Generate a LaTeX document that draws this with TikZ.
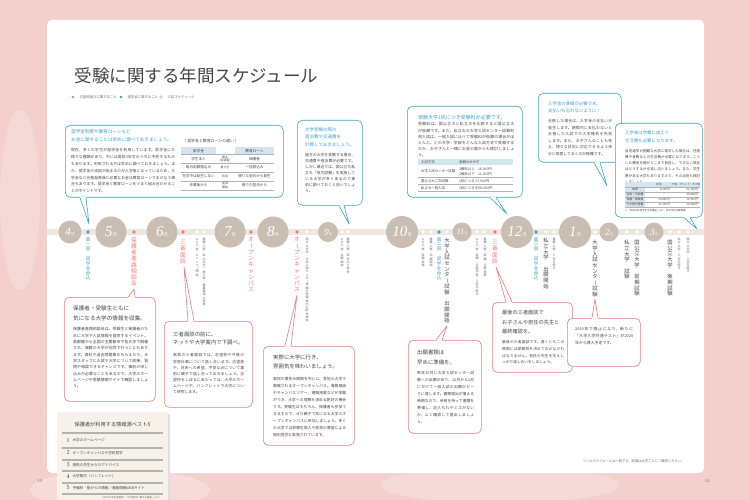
\documentclass[tikz,border=0pt]{standalone}
\usepackage{fontspec}
\usepackage{graphicx}
\setmainfont{Noto Sans CJK JP}
\newfontfamily\numfont{Liberation Serif}
\XeTeXlinebreaklocale "ja"
\XeTeXlinebreakskip=0pt plus 0.4pt
\usetikzlibrary{calc}
\definecolor{cblue}{HTML}{3FA3C6}
\definecolor{cred}{HTML}{EE7C7C}
\definecolor{cmon}{HTML}{C9BEB1}
\definecolor{cband}{HTML}{ECE7E1}
\definecolor{cdark}{HTML}{454545}
\definecolor{cgray}{HTML}{6A6A6A}
\definecolor{cpink}{HTML}{F3D0CC}
\definecolor{ctab}{HTML}{D5E5EE}
\definecolor{cpanel}{HTML}{F6F2EA}
\newcommand\fs[2]{\fontsize{#1}{#2}\selectfont}
\newcommand\cho{\rotatebox[origin=c]{-90}{ー}}
\newcommand\mnum[2]{{\numfont\itshape\fs{#1}{#1}#2}}
\newcommand\mtsu[1]{{\fs{#1}{#1}月}}
\makeatletter
\def\tate@end{TATE@END}
\newcommand\tate[1]{\vbox{\baselineskip=1.08em\lineskiplimit=-100pt\lineskip=0pt\tate@a#1\tate@end}}
\def\tate@a#1{\ifx#1\tate@end\else\hbox to 1em{\hss#1\hss}\expandafter\tate@a\fi}
\makeatother
\newcommand\tail[4]{%
  \fill[white] #2 -- #4 -- #3 -- cycle;
  \draw[white, line width=1.3pt] #2 -- #3;
  \draw[#1, line width=0.6pt, line join=round] #2 -- #4 -- #3;}
\tikzset{
  bx/.style={rounded corners=5pt, line width=0.6pt, fill=white, anchor=north west, inner sep=0pt},
  bbox/.style={bx, draw=cblue},
  rbox/.style={bx, draw=cred},
  mon/.style={circle, fill=cmon, text=white, inner sep=0pt},
  body/.style={anchor=north west, align=justify, text=cdark, inner sep=0pt},
  bhead/.style={anchor=north west, align=left, text=cblue, inner sep=0pt},
  rhead/.style={anchor=north west, align=left, text=cdark, inner sep=0pt},
  tab/.style={text=cdark, align=center, inner sep=0pt},
  vgray/.style={anchor=north, inner sep=0pt, font=\fs{3}{3}, text=cgray},
  vblue/.style={anchor=north, inner sep=0pt, font=\fs{4.5}{4.5}, text=cblue},
  vred/.style={anchor=north, inner sep=0pt, font=\fs{5.8}{5.8}, text=cred},
  vdark/.style={anchor=north, inner sep=0pt, font=\fs{5.3}{5.3}, text=cdark},
  tline/.style={draw=black!30, line width=0.3pt},
}
\begin{document}
\begin{tikzpicture}[x=1pt,y=-1pt]
\useasboundingbox (0,0) rectangle (750,500);
% background
\fill[cpink] (0,0) rectangle (750,500);
\fill[white, opacity=0.25] (120,490) ellipse[x radius=90pt, y radius=20pt];
\fill[white, opacity=0.2] (500,485) ellipse[x radius=120pt, y radius=18pt];
\fill[white, opacity=0.2] (20,200) ellipse[x radius=20pt, y radius=90pt];
\fill[white, rounded corners=5pt] (47,20) rectangle (704,473);
% title and legend
\node[anchor=west, text=cdark, font=\fs{17.5}{18}] (title) at (71,75.5) {受験に関する年間スケジュール};
\fill[cred] (73,97) circle[radius=1.4pt];
\node[anchor=west, text=cgray, font=\fs{3.4}{4}] (lg1) at (76,97) {志望校選びに関すること};
\fill[cblue] (121,97) circle[radius=1.4pt];
\node[anchor=west, text=cgray, font=\fs{3.4}{4}] (lg2) at (124,97) {奨学金に関すること};
\draw[gray!70, line width=0.4pt, fill=white] (161,97) circle[radius=1.4pt];
\node[anchor=west, text=cgray, font=\fs{3.4}{4}] (lg3) at (164,97) {入試スケジュール};
% timeline band
\fill[cband] (47,229) rectangle (704,235);
% dots
\foreach \x in {197,204,307,342,348,423,431,447,477,484,546,554,595,627,637,670,679,688}
  \fill[white] (\x,232) circle[radius=1.8pt];
\foreach \x in {134,183,251,297,495}
  \fill[cred] (\x,232) circle[radius=1.8pt];
\foreach \x in {88,439,536}
  \fill[cblue] (\x,232) circle[radius=1.8pt];
% months
\node[mon, minimum size=23pt] (m4) at (70,232) {\mnum{11}{4}\mtsu{3.6}};
\node[mon, minimum size=31pt] (m5) at (111,232) {\mnum{15}{5}\mtsu{4.5}};
\node[mon, minimum size=31pt] (m6) at (162,232) {\mnum{15}{6}\mtsu{4.5}};
\node[mon, minimum size=31pt] (m7) at (230,232) {\mnum{15}{7}\mtsu{4.5}};
\node[mon, minimum size=31pt] (m8) at (273,232) {\mnum{15}{8}\mtsu{4.5}};
\node[mon, minimum size=20pt] (m9) at (328,232) {\mnum{9.5}{9}\mtsu{3.2}};
\node[mon, minimum size=32pt] (m10) at (402,232) {\mnum{15}{10}\mtsu{4.5}};
\node[mon, minimum size=19pt] (m11) at (462,232) {\mnum{8.5}{11}\mtsu{3}};
\node[mon, minimum size=32pt] (m12) at (517,232) {\mnum{15}{12}\mtsu{4.5}};
\node[mon, minimum size=32pt] (m1) at (575,232) {\mnum{15}{1}\mtsu{4.5}};
\node[mon, minimum size=19pt] (m2) at (609,232) {\mnum{9.5}{2}\mtsu{3.2}};
\node[mon, minimum size=19pt] (m3) at (654,232) {\mnum{9.5}{3}\mtsu{3.2}};
% vertical schedule texts
\node[vblue] (v88) at (88,237) {\tate{第一回　奨学金申込}};
\node[vred] (v134) at (134,237) {\tate{保護者進路相談会}};
\node[vred] (v183) at (183,240) {\tate{三者面談}};
\node[vgray] (v197) at (197,238) {\tate{AO入試｜エントリ\cho 開始}};
\node[vgray] (v204) at (204,238) {\tate{推薦入試・私立大学一般入試｜募集要項の発表}};
\node[vred] (v251) at (251,237) {\tate{オ\cho プンキャンパス}};
\node[vred] (v297) at (297,237) {\tate{オ\cho プンキャンパス}};
\node[vgray] (v307) at (307,238) {\tate{国公立大学｜大学入試センタ\cho 試験の受験案内の配布開始}};
\node[vgray] (v342) at (342,238) {\tate{AO入試｜出願開始}};
\node[vgray] (v348) at (348,238) {\tate{推薦入試｜高校内で選考}};
\node[vgray] (v423) at (423,238) {\tate{AO入試｜試験実施}};
\node[vgray] (v431) at (431,238) {\tate{推薦入試｜出願開始}};
\node[vblue] (v439) at (439,237) {\tate{第二回　奨学金申込}};
\node[vdark] (v447) at (447,238) {\tate{大学入試センタ\cho 試験　出願開始}};
\node[vgray] (v477) at (477,238) {\tate{AO入試｜試験・合格発表・入学手続き}};
\node[vgray] (v484) at (485,238) {\tate{推薦入試｜試験・合格発表}};
\node[vred] (v495) at (495,240) {\tate{三者面談}};
\node[vblue] (v536) at (536,237) {\tate{第三回　奨学金申込}};
\node[vdark] (v546) at (546,238) {\tate{私立大学　出願開始}};
\node[vgray] (v554) at (554,238) {\tate{推薦入試｜入学手続き}};
\node[vdark] (v595) at (595,240) {\tate{大学入試センタ\cho 試験}};
\node[vdark] (v627) at (627,240) {\tate{私立大学　試験}};
\node[vdark] (v637) at (637,240) {\tate{国公立大学　前期試験}};
\node[vdark] (v670) at (670,240) {\tate{国公立大学　後期試験}};
\node[vgray] (v679) at (679,238) {\tate{私立大学｜入学手続き}};
\node[vgray] (v688) at (688,238) {\tate{国公立大学｜入学手続き}};
% ---------- blue box 1 (scholarship) ----------
\node[bbox, minimum width=218pt, minimum height=72pt] (b1) at (65,125) {};
\tail{cblue}{($(b1.south west)+(15,0)$)}{($(b1.south west)+(21,0)$)}{(89,224)}
\node[bhead, font=\fs{4.6}{8}] (b1h) at (71,129) {奨学金制度や教育ローンなど\\お金に関することは早めに調べておきましょう。};
\node[anchor=west, text=cdark, font=\fs{3.9}{4}] (b1t) at (179,141.5) {〈 奨学金と教育ローンの違い 〉};
\node[body, text width=104pt, font=\fs{3.8}{6.9}] (b1b) at (71,148) {現在、多くの学生が奨学金を利用しています。奨学金にも様々な種類があり、中には高校3年生のうちに予約するものもあります。利用される方は早めに調べておきましょう。また、奨学金の支給が始まるのが入学後となっているため、入学金など合格発表後に必要なお金は教育ローンでまかなう場合もあります。奨学金と教育ローンをうまく組み合わせることがポイントです。};
\fill[ctab] (181,147.5) rectangle (216,154.5);
\fill[ctab] (235,147.5) rectangle (274,154.5);
\foreach \y in {154.5,163,172,181,190} \draw[tline] (181,\y) -- (274,\y);
\node[tab, font=\fs{3.7}{4}] at (198.5,151) {奨学金};
\node[tab, font=\fs{3.7}{4}] at (254.5,151) {教育ローン};
\node[tab, font=\fs{3.6}{4}] at (198.5,158.8) {学生本人};
\node[tab, font=\fs{2.9}{3.3}] at (225,158.8) {借主\\(返済者)};
\node[tab, font=\fs{3.6}{4}] at (254.5,158.8) {保護者};
\node[tab, font=\fs{3.6}{4}] at (198.5,167.5) {毎月定額振込み};
\node[tab, font=\fs{2.9}{3.3}] at (225,167.5) {借り方};
\node[tab, font=\fs{3.6}{4}] at (254.5,167.5) {一括振込み};
\node[tab, font=\fs{3.6}{4}] at (198.5,176.5) {在学中は発生しない};
\node[tab, font=\fs{2.9}{3.3}] at (225,176.5) {利息};
\node[tab, font=\fs{3.6}{4}] at (254.5,176.5) {借りた翌日から発生};
\node[tab, font=\fs{3.6}{4}] at (198.5,185.5) {卒業後から};
\node[tab, font=\fs{2.9}{3.3}] at (225,185.5) {返済\\開始};
\node[tab, font=\fs{3.6}{4}] at (254.5,185.5) {借りた翌月から};
% ---------- blue box 2 (September) ----------
\node[bbox, minimum width=65pt, minimum height=85pt] (b2) at (297,120) {};
\tail{cblue}{($(b2.south west)+(42,0)$)}{($(b2.south west)+(47,0)$)}{(349,224)}
\node[bhead, font=\fs{4.5}{7.4}] (b2h) at (305,127.5) {大学受験の際の\\宿泊費や交通費を\\計算しておきましょう。};
\node[body, text width=50pt, font=\fs{3.8}{6}] (b2b) at (305,153) {遠方の大学を受験する場合、交通費や宿泊費が必要です。しかし最近では、国公立も私立も「地方試験」を実施している大学が多くあるので事前に調べておくと良いでしょう。};
% ---------- blue box 3 (exam fee) ----------
\node[bbox, minimum width=115pt, minimum height=91pt] (b3) at (407,106) {};
\tail{cblue}{($(b3.south west)+(83,0)$)}{($(b3.south west)+(89,0)$)}{(507,214)}
\node[bhead, font=\fs{5}{6}] (b3h) at (418,115) {受験大学1校につき受験料が必要です。};
\node[body, text width=96pt, font=\fs{3.9}{6.1}] (b3b) at (418,122.5) {受験料は、国公立大と私立大を比較すると国公立大が低額です。また、私立大の大学入試センター試験利用入試は、一般入試に比べて受験料が低額の場合がほとんど。どの大学・学部をどんな入試方式で受験するのか、お子さんと一緒にお金の面からも検討しましょう。};
\fill[ctab] (418,159.5) rectangle (513,165.5);
\foreach \y in {177.5,184.5,191.5} \draw[tline] (418,\y) -- (513,\y);
\node[tab, anchor=west, font=\fs{3.4}{4}] at (421,162.5) {入試方式};
\node[tab, anchor=west, font=\fs{3.4}{4}] at (459,162.5) {金額のめやす};
\node[tab, anchor=west, font=\fs{3.4}{4}] at (421,171.5) {大学入試センター試験};
\node[tab, anchor=west, align=left, font=\fs{3.4}{4.8}] at (459,171.5) {3教科以上　18,000円\\2教科以下　12,000円};
\node[tab, anchor=west, font=\fs{3.4}{4}] at (421,181) {国公立大二次試験};
\node[tab, anchor=west, font=\fs{3.4}{4}] at (459,181) {1校につき 17,000円};
\node[tab, anchor=west, font=\fs{3.4}{4}] at (421,188) {私立大一般入試};
\node[tab, anchor=west, font=\fs{3.4}{4}] at (459,188) {1校につき 約35,000円};
% ---------- blue box 4 (entrance fee) ----------
\node[bbox, minimum width=83pt, minimum height=69pt] (b4) at (538,93) {};
\tail{cblue}{($(b4.south west)+(56,0)$)}{($(b4.south west)+(62,0)$)}{(607,186)}
\node[bhead, font=\fs{4.4}{6.8}] (b4h) at (548,102) {入学金の準備が必要です。\\支払いも忘れないように！};
\node[body, text width=64pt, font=\fs{3.8}{6.5}] (b4b) at (548,119.5) {合格した場合は、入学金の支払いが発生します。期間内に支払わないと合格した入試での入学権利を失効します。また、お子さんのことも考え、様々な状況に対応できるよう余分に用意しておくのが無難です。};
% ---------- blue box 5 (living cost) ----------
\node[bbox, minimum width=87pt, minimum height=94pt] (b5) at (615,123) {};
\tail{cblue}{($(b5.south west)+(69,0)$)}{($(b5.south west)+(75,0)$)}{(697,229)}
\node[bhead, font=\fs{4.4}{8.2}] (b5h) at (625,130.5) {入学後は学費に加えて\\生活費も必要になります。};
\node[body, text width=75pt, font=\fs{3.5}{6.1}] (b5b) at (625,149.5) {自宅通学が困難な大学に進学した場合は、住居費や食費などの生活費が必要になります。こうした費用を親がどこまで負担し、できない場合はどうするかを話し合いましょう。また、学生寮がある大学もありますので、その活用も検討しましょう。};
\fill[ctab] (625,182) rectangle (700,187);
\fill[ctab] (625,187) rectangle (645,207);
\foreach \y in {187,192,197,202,207} \draw[tline] (625,\y) -- (700,\y);
\node[tab, font=\fs{2.8}{3}] at (659,184.5) {自宅};
\node[tab, font=\fs{2.6}{3}] at (686,184.5) {下宿・アパート・その他};
\node[tab, font=\fs{2.8}{3}] at (635,189.5) {食費};
\node[tab, anchor=east, font=\fs{2.8}{3}] at (670,189.5) {8,100円};
\node[tab, anchor=east, font=\fs{2.8}{3}] at (698,189.5) {21,325円};
\node[tab, font=\fs{2.8}{3}] at (635,194.5) {住居・光熱費};
\node[tab, anchor=east, font=\fs{2.8}{3}] at (666,194.5) {―};
\node[tab, anchor=east, font=\fs{2.8}{3}] at (698,194.5) {35,808円};
\node[tab, font=\fs{2.8}{3}] at (635,199.5) {保健・娯楽費};
\node[tab, anchor=east, font=\fs{2.8}{3}] at (670,199.5) {10,850円};
\node[tab, anchor=east, font=\fs{2.8}{3}] at (698,199.5) {11,991円};
\node[tab, font=\fs{2.8}{3}] at (635,204.5) {その他日常費};
\node[tab, anchor=east, font=\fs{2.8}{3}] at (670,204.5) {11,225円};
\node[tab, anchor=east, font=\fs{2.8}{3}] at (698,204.5) {12,508円};
\node[tab, anchor=west, font=\fs{2.4}{3}] at (625,211) {※「平成26年度学生生活調査」より　日本学生支援機構};
% ---------- red boxes ----------
\node[rbox, minimum width=91pt, minimum height=104pt] (r1) at (64,297) {};
\tail{cred}{($(r1.north west)+(64,0)$)}{($(r1.north west)+(71,0)$)}{(134,289)}
\node[rhead, font=\fs{5.6}{10}] (r1h) at (73,305.5) {保護者・受験生ともに\\気になる大学の情報を収集。};
\node[body, text width=75pt, font=\fs{3.9}{6.3}] (r1b) at (73,327.5) {保護者進路相談会は、受験生と保護者のために大学や入試情報を提供するイベント。首都圏から全国の主要都市や各大学で開催され、複数の大学が合同で行うこともあります。資料や過去問題集をもらえたり、大学スタッフに入試や大学について直接、質問や相談できるチャンスです。事前の申し込みが必要なこともあるので、大学のホームページや受験情報サイトで確認しましょう。};
\node[rbox, minimum width=88pt, minimum height=86pt] (r2) at (164,321) {};
\tail{cred}{($(r2.north west)+(24,0)$)}{($(r2.north west)+(30,0)$)}{(184,267)}
\node[rhead, font=\fs{5.4}{8.5}] (r2h) at (173,331.5) {三者面談の前に、\\ネットや大学案内で下調べ。};
\node[body, text width=71pt, font=\fs{3.8}{6.15}] (r2b) at (173,353.5) {高校の三者面談では、志望校や今後の学習計画について話し合います。志望校や、将来への希望、不安な点について事前に親子で話し合っておきましょう。志望校をしぼるにあたっては、大学のホームページや、パンフレットで大学について研究します。};
\node[rbox, minimum width=91pt, minimum height=99pt] (r3) at (263,346) {};
\tail{cred}{($(r3.north west)+(22,0)$)}{($(r3.north west)+(28,0)$)}{(297,295)}
\node[rhead, font=\fs{5.4}{8.5}] (r3h) at (273,355) {実際に大学に行き、\\雰囲気を味わいましょう。};
\node[body, text width=73pt, font=\fs{3.8}{7}] (r3b) at (273,377) {高校の夏休み期間を中心に、各地の大学で開催されるオープンキャンパス。進路相談やキャンパスツアー、模擬授業などが体験ができ、大学への理解を深める絶好の機会です。受験生はもちろん、保護者も参加できますので、ぜひ親子で気になる大学のオープンキャンパスに参加しましょう。多くの大学では受験生個人や高校の要望による個別見学も実施されています。};
\node[rbox, minimum width=73pt, minimum height=93pt] (r4) at (408,340) {};
\tail{cred}{($(r4.north west)+(28,0)$)}{($(r4.north west)+(34,0)$)}{(447,326)}
\node[rhead, font=\fs{5.4}{9.4}] (r4h) at (417,350) {出願書類は\\早めに準備を。};
\node[body, text width=57pt, font=\fs{3.8}{7.05}] (r4b) at (417,371) {例年10月に大学入試センター試験への出願があり、12月から2月にかけて一般入試の出願がピークに達します。書類提出が増える時期なので、余裕を持って書類を準備し、記入もれやミスがないか、よく確認して提出しましょう。};
\node[rbox, minimum width=80pt, minimum height=70pt] (r5) at (492,302) {};
\tail{cred}{($(r5.north west)+(14,0)$)}{($(r5.north west)+(20,0)$)}{(496,267)}
\node[rhead, font=\fs{5.2}{9.5}] (r5h) at (502,310) {最後の三者面談で\\お子さんや担任の先生と\\最終確認を。};
\node[body, text width=62pt, font=\fs{3.7}{6.6}] (r5b) at (502,340.5) {最後の三者面談です。遅くともこの時期には受験校を決めておかなければなりません。担任の先生を交えしっかり話し合いをしましょう。};
\node[rbox, minimum width=73pt, minimum height=48pt] (r6) at (567,318) {};
\tail{cred}{($(r6.north west)+(25,0)$)}{($(r6.north west)+(31,0)$)}{(595,299)}
\node[body, text width=58pt, font=\fs{3.9}{7}] (r6b) at (575,327) {2019年で廃止になり、新たに「大学入学共通テスト」が2020年から導入予定です。};
% footnote
\node[anchor=east, text=cgray, font=\fs{3.3}{4}] (fn) at (688,461) {※このスケジュールは一例です。詳細は大学ごとにご確認ください。};
% ---------- info panel ----------
\fill[black!12] (59,414) rectangle (170,502);
\fill[cpanel] (57,412) rectangle (168,500);
\node[text=cdark, font=\fs{5.2}{6}] (ph) at (112.5,425) {保護者が利用する情報源ベスト5};
\foreach \y in {432,447,459,470.5,482,493.5} {
  \draw[black!30, line width=0.35pt] (62,\y) -- (163,\y);
  \draw[black!30, line width=0.35pt] (62,\y+0.9) -- (163,\y+0.9);}
\node[anchor=west, text=cdark, font=\numfont\fs{6}{6}] (p1n) at (63,440.5) {1};
\node[anchor=west, text=cdark, font=\fs{3.6}{4}] (p1) at (69,440.5) {大学のホームページ};
\node[anchor=west, text=cdark, font=\numfont\fs{6}{6}] (p2n) at (63,453) {2};
\node[anchor=west, text=cdark, font=\fs{3.6}{4}] (p2) at (69,453) {オープンキャンパスや学校見学};
\node[anchor=west, text=cdark, font=\numfont\fs{6}{6}] (p3n) at (63,465) {3};
\node[anchor=west, text=cdark, font=\fs{3.6}{4}] (p3) at (69,465) {高校の先生からのアドバイス};
\node[anchor=west, text=cdark, font=\numfont\fs{6}{6}] (p4n) at (63,476.5) {4};
\node[anchor=west, text=cdark, font=\fs{3.6}{4}] (p4) at (69,476.5) {大学案内（パンフレット）};
\node[anchor=west, text=cdark, font=\numfont\fs{6}{6}] (p5n) at (63,488) {5};
\node[anchor=west, text=cdark, font=\fs{3.6}{4}] (p5) at (69,488) {予備校・塾からの情報／進路情報WEBサイト};
\node[anchor=east, text=cgray, font=\fs{2.4}{3}] (pf) at (165,497.5) {（2018大学生協連調べ「大学進学に関する調査」より）};
% page numbers
\node[text=cgray, font=\numfont\fs{4.5}{5}] (pg13) at (40,481) {13};
\node[text=cgray, font=\numfont\fs{4.5}{5}] (pg14) at (707,481) {14};
\end{tikzpicture}
\end{document}
